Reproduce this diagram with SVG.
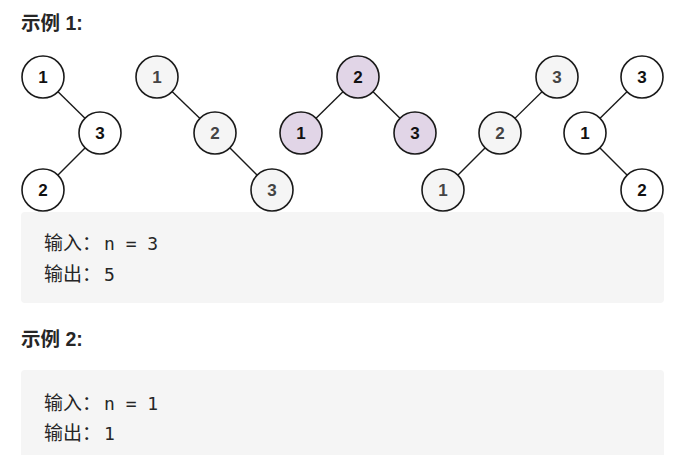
<svg xmlns="http://www.w3.org/2000/svg" width="674" height="455" viewBox="0 0 674 455">
<style>
.bg{fill:#ffffff}
.box{fill:#f5f5f5}
.title{font-family:"Liberation Sans","Noto Sans CJK SC",sans-serif;font-weight:bold;font-size:19.5px;fill:#262626}
.cjk{font-family:"Noto Sans CJK SC",sans-serif;font-size:19px;fill:#262626}
.mono{font-family:"DejaVu Sans Mono","Liberation Mono",monospace;font-size:18px;fill:#262626}
.edge{stroke:#1a1a1a;stroke-width:1.4;fill:none}
.n circle{stroke:#1a1a1a;stroke-width:1.6}
.w circle{fill:#ffffff}
.g circle{fill:#f5f5f5}
.p circle{fill:#e1d5e7}
.n text{font-family:"Liberation Sans",Arial,sans-serif;font-weight:bold;font-size:17px;text-anchor:middle;fill:#111}
.g text{fill:#444}
</style>
<rect class="bg" x="0" y="0" width="674" height="455"/>
<text class="title" x="21" y="30">示例 1:</text>
<g id="connectors">
<line class="edge" x1="43" y1="77" x2="100" y2="133"/>
<line class="edge" x1="100" y1="133" x2="43" y2="190"/>
<line class="edge" x1="157" y1="77" x2="215" y2="133"/>
<line class="edge" x1="215" y1="133" x2="272" y2="190"/>
<line class="edge" x1="358" y1="77" x2="301" y2="133"/>
<line class="edge" x1="358" y1="77" x2="415" y2="133"/>
<line class="edge" x1="557" y1="77" x2="500" y2="133"/>
<line class="edge" x1="500" y1="133" x2="443" y2="190"/>
<line class="edge" x1="642" y1="77" x2="585" y2="133"/>
<line class="edge" x1="585" y1="133" x2="642" y2="190"/>
</g>
<g id="t1n1" class="n w"><circle cx="43" cy="77" r="21"/><text x="43" y="83">1</text></g>
<g id="t1n3" class="n w"><circle cx="100" cy="133" r="21"/><text x="100" y="139">3</text></g>
<g id="t1n2" class="n w"><circle cx="43" cy="190" r="21"/><text x="43" y="196">2</text></g>
<g id="t2n1" class="n g"><circle cx="157" cy="77" r="21"/><text x="157" y="83">1</text></g>
<g id="t2n2" class="n g"><circle cx="215" cy="133" r="21"/><text x="215" y="139">2</text></g>
<g id="t2n3" class="n g"><circle cx="272" cy="190" r="21"/><text x="272" y="196">3</text></g>
<g id="t3n2" class="n p"><circle cx="358" cy="77" r="21"/><text x="358" y="83">2</text></g>
<g id="t3n1" class="n p"><circle cx="301" cy="133" r="21"/><text x="301" y="139">1</text></g>
<g id="t3n3" class="n p"><circle cx="415" cy="133" r="21"/><text x="415" y="139">3</text></g>
<g id="t4n3" class="n g"><circle cx="557" cy="77" r="21"/><text x="557" y="83">3</text></g>
<g id="t4n2" class="n g"><circle cx="500" cy="133" r="21"/><text x="500" y="139">2</text></g>
<g id="t4n1" class="n g"><circle cx="443" cy="190" r="21"/><text x="443" y="196">1</text></g>
<g id="t5n3" class="n w"><circle cx="642" cy="77" r="21"/><text x="642" y="83">3</text></g>
<g id="t5n1" class="n w"><circle cx="585" cy="133" r="21"/><text x="585" y="139">1</text></g>
<g id="t5n2" class="n w"><circle cx="642" cy="190" r="21"/><text x="642" y="196">2</text></g>
<rect class="box" x="21" y="212" width="643" height="91" rx="4"/>
<text class="cjk" x="44" y="250">输入：</text><text class="mono" x="104" y="250">n = 3</text>
<text class="cjk" x="44" y="281">输出：</text><text class="mono" x="104" y="281">5</text>
<text class="title" x="21" y="346">示例 2:</text>
<rect class="box" x="21" y="370" width="643" height="100" rx="4"/>
<text class="cjk" x="44" y="410">输入：</text><text class="mono" x="104" y="410">n = 1</text>
<text class="cjk" x="44" y="440">输出：</text><text class="mono" x="104" y="440">1</text>
</svg>
